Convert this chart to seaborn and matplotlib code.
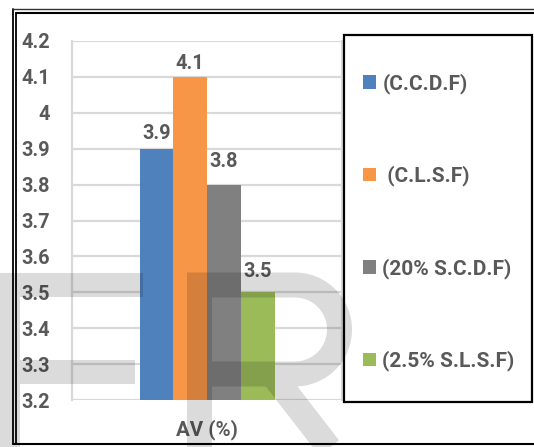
import numpy as np
import pandas as pd
import matplotlib
matplotlib.use("Agg")
import matplotlib.pyplot as plt
from matplotlib.path import Path
from matplotlib.patches import PathPatch, Rectangle
from matplotlib.lines import Line2D
from matplotlib import font_manager
import seaborn as sns

# ---- data ----
category = ["AV (%)"]
series = ["(C.C.D.F)", " (C.L.S.F)", "(20% S.C.D.F)", "(2.5% S.L.S.F)"]
values = [3.9, 4.1, 3.8, 3.5]
colors = ["#4F81BD", "#F79646", "#808080", "#9BBB59"]
y_ticks = [3.2, 3.3, 3.4, 3.5, 3.6, 3.7, 3.8, 3.9, 4.0, 4.1, 4.2]
y_tick_labels = ["3.2", "3.3", "3.4", "3.5", "3.6", "3.7", "3.8", "3.9", "4", "4.1", "4.2"]

df = pd.DataFrame({"metric": category * len(series), "series": series, "value": values})

sns.set_theme(style="white")

# pick a family that really ships a bold face
bold_families = set()
for f in font_manager.fontManager.ttflist:
    if f.weight in (700, "bold"):
        bold_families.add(f.name)
family = next((n for n in ["Roboto", "Lato", "Open Sans", "Liberation Sans"]
               if n in bold_families), "DejaVu Sans")
plt.rcParams["font.family"] = [family, "DejaVu Sans"]
plt.rcParams["font.weight"] = "bold"

TXT = "#595959"
GRID = "#D9D9D9"
W, H = 534, 447
FS = 14.3


def fx(x):
    return x / W


def fy(y):
    return 1 - y / H


fig = plt.figure(figsize=(W / 100, H / 100), dpi=100)
fig.patch.set_facecolor("white")
ax = fig.add_axes([fx(72), fy(400), (342 - 72) / W, (400 - 41) / H])

sns.barplot(data=df, x="metric", y="value", hue="series", palette=colors,
            width=0.5, saturation=1, ax=ax, legend=True, zorder=3,
            linewidth=0)

ax.set_xlim(-0.5, 0.5)
ax.set_ylim(3.2, 4.2)
ax.set_yticks(y_ticks)
ax.set_yticklabels(y_tick_labels)
ax.set_xlabel("")
ax.set_ylabel("")

ax.yaxis.grid(True, color=GRID, linewidth=1.6, zorder=0)
ax.set_axisbelow(True)
for side in ["top", "bottom"]:
    ax.spines[side].set_visible(False)
for side in ["left", "right"]:
    ax.spines[side].set_visible(True)
    ax.spines[side].set_color(GRID)
    ax.spines[side].set_linewidth(1.6)

ax.tick_params(axis="y", length=0, pad=16, labelsize=FS, labelcolor=TXT)
ax.tick_params(axis="x", which="major", length=0, pad=14, labelsize=FS + 0.5,
               labelcolor=TXT)
ax.set_xticks([-0.5, 0.5], minor=True)
ax.tick_params(axis="x", which="minor", length=5, width=1.6, color=GRID, direction="out")
for lab in ax.get_yticklabels() + ax.get_xticklabels():
    lab.set_fontweight("bold")

# value labels above each bar
pads = [4.0, 2.6, 9.7, 8.0]
for cont, pad in zip(ax.containers, pads):
    ax.bar_label(cont, fmt="%.1f", padding=pad, fontsize=FS,
                 fontweight="bold", color=TXT)

# legend in its own framed box on the right
handles, labels = ax.get_legend_handles_labels()
ax.get_legend().remove()
leg = fig.legend(handles, labels, loc="upper left",
                 bbox_to_anchor=(fx(363), fy(73)), frameon=False,
                 borderpad=0, borderaxespad=0, labelspacing=3.45,
                 handlelength=0.63, handleheight=0.63, handletextpad=0.3,
                 prop={"size": 15, "weight": "bold"})
for t in leg.get_texts():
    t.set_color(TXT)
fig.add_artist(Rectangle((fx(344), fy(402)), (532 - 344) / W, (402 - 35) / H,
                         transform=fig.transFigure, fill=False,
                         edgecolor="black", linewidth=1.6, zorder=6))

# double frame round the whole chart
for x in (12.5, 16):
    fig.add_artist(Line2D([fx(x), fx(x)], [fy(9 if x < 14 else 13), fy(444)],
                          transform=fig.transFigure, color="black", linewidth=1.3))
fig.add_artist(Line2D([fx(12.5), 1], [fy(9), fy(9)], transform=fig.transFigure,
                      color="#333333", linewidth=1.0))
fig.add_artist(Line2D([fx(16), 1], [fy(13), fy(13)], transform=fig.transFigure,
                      color="black", linewidth=1.5))
fig.add_artist(Line2D([fx(12.5), 1], [fy(444), fy(444)], transform=fig.transFigure,
                      color="black", linewidth=1.5))

# journal watermark letters
wm = dict(transform=fig.transFigure, facecolor="black", edgecolor="none",
          alpha=0.14, zorder=20)
e_pts = [(0, 273), (143, 273), (143, 297), (20, 297), (20, 360), (135, 360),
         (135, 384), (20, 384), (20, 447), (0, 447), (0, 273)]
e_path = Path([(fx(a), fy(b)) for a, b in e_pts], closed=True)
fig.add_artist(PathPatch(e_path, **wm))

th = np.linspace(np.pi / 2, -np.pi / 2, 40)
cx, cy, r = 295, 329.5, 44.5
bowl = [(cx + r * np.cos(t), cy - r * np.sin(t)) for t in th]
r_main = [(199.5, 460), (199.5, 285), (cx, 285)] + bowl + [(199.5, 374)]
r_leg = [(272, 374), (340, 462)]
verts = r_main + r_leg
codes = ([Path.MOVETO] + [Path.LINETO] * (len(r_main) - 1)
         + [Path.MOVETO, Path.LINETO])
r_path = Path([(fx(a), fy(b)) for a, b in verts], codes)
fig.add_artist(PathPatch(r_path, transform=fig.transFigure, fill=False,
                         edgecolor="black", alpha=0.14, linewidth=18,
                         capstyle="butt", joinstyle="miter", zorder=20))

fig.savefig("out.png", dpi=100)
